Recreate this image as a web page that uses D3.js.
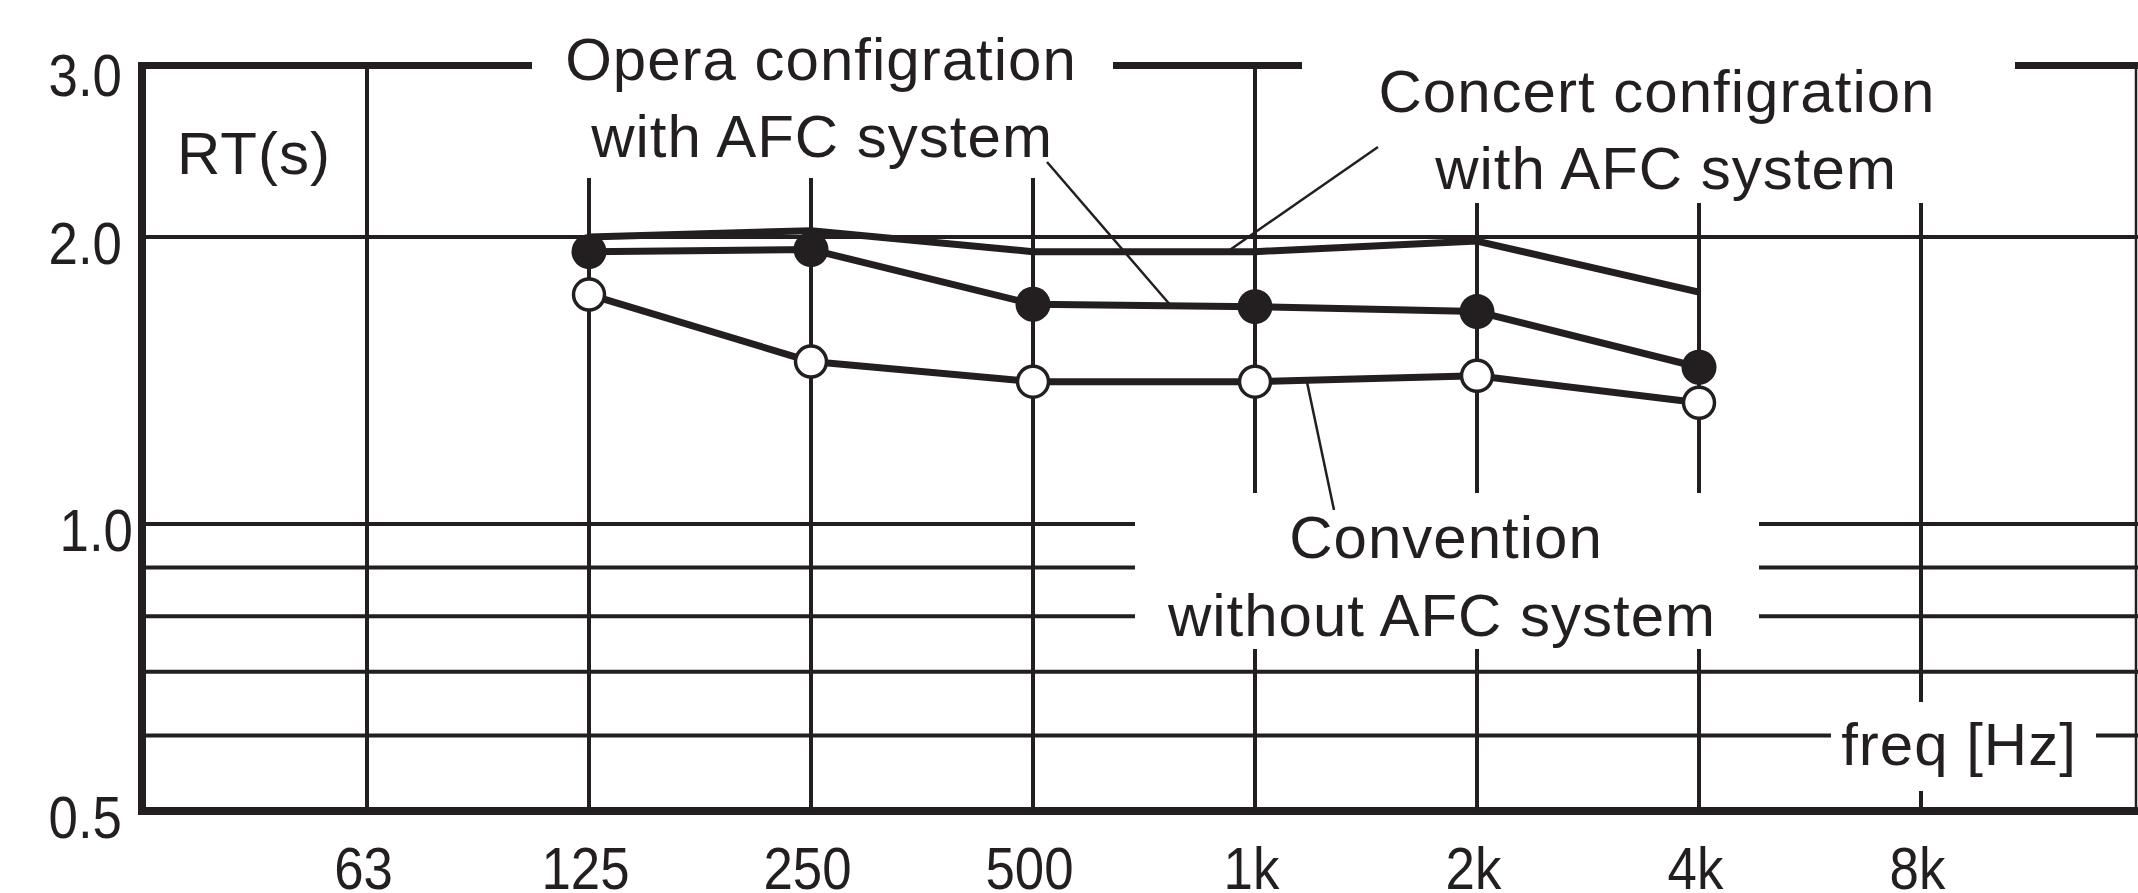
<!DOCTYPE html>
<html><head><meta charset="utf-8">
<script src="https://cdn.jsdelivr.net/npm/d3@7"></script>
<style>html,body{margin:0;padding:0;background:#fff;overflow:hidden}</style>
</head><body><svg id="chart" width="2138" height="893"></svg>
<script>
// ---- data ----
const freqValues = [62.5, 125, 250, 500, 1000, 2000, 4000, 8000];
const freqLabels = ["63", "125", "250", "500", "1k", "2k", "4k", "8k"];
const measFreqs = [125, 250, 500, 1000, 2000, 4000];
const concertRT = [2.00, 2.03, 1.93, 1.93, 1.98, 1.75];
const operaRT = [1.93, 1.94, 1.70, 1.69, 1.67, 1.46];
const conventionRT = [1.74, 1.48, 1.41, 1.41, 1.43, 1.34];
const yGridValues = [2.0, 1.0, 0.9, 0.8, 0.7, 0.6];
const yTickValues = [3.0, 2.0, 1.0, 0.5];
const yTickLabels = ["3.0", "2.0", "1.0", "0.5"];

// ---- setup ----
const W = 2138, H = 893, ink = "#231f20";
const FONT = "'Liberation Sans', Arial, sans-serif";
const x = d3.scaleLog().base(2).domain([31.25, 16000]).range([145, 2143]);
const y = d3.scaleLog().domain([0.5, 3]).range([811, 69]);
const svg = d3.select("#chart");
svg.append("rect").attr("width", W).attr("height", H).attr("fill", "#fff");

const x0 = x(31.25), yTop = y(3), yBot = y(0.5);

// ---- grid ----
const grid = svg.append("g").attr("stroke", ink).attr("stroke-width", 4);
grid.selectAll("line.h").data(yGridValues).join("line").attr("class", "h")
  .attr("x1", x0).attr("x2", W).attr("y1", d => y(d)).attr("y2", d => y(d));
grid.selectAll("line.v").data(freqValues).join("line").attr("class", "v")
  .attr("x1", d => x(d)).attr("x2", d => x(d)).attr("y1", yTop - 3).attr("y2", yBot);
// right edge
svg.append("line").attr("x1", W - 2).attr("x2", W - 2).attr("y1", yTop - 7).attr("y2", yBot + 4)
  .attr("stroke", ink).attr("stroke-width", 2.5);

// ---- frame ----
const frame = svg.append("g").attr("stroke", ink);
frame.append("line").attr("x1", x0 - 7).attr("x2", W).attr("y1", yTop - 3.5).attr("y2", yTop - 3.5).attr("stroke-width", 7);
frame.append("line").attr("x1", x0 - 3).attr("x2", x0 - 3).attr("y1", yTop - 7).attr("y2", yBot + 4).attr("stroke-width", 8);
frame.append("line").attr("x1", x0 - 7).attr("x2", W).attr("y1", yBot).attr("y2", yBot).attr("stroke-width", 8);

// ---- knockout boxes behind labels ----
const boxes = [
  [532, 0, 1113, 178],
  [1302, 0, 2015, 203],
  [1135, 493, 1759, 649],
  [1831, 702, 2096, 791]
];
svg.append("g").selectAll("rect").data(boxes).join("rect")
  .attr("x", d => d[0]).attr("y", d => d[1]).attr("width", d => d[2] - d[0]).attr("height", d => d[3] - d[1])
  .attr("fill", "#fff");

// ---- series ----
const line = d3.line().x(d => x(d[0])).y(d => y(d[1]));
const series = [concertRT, operaRT, conventionRT].map(vals => measFreqs.map((f, i) => [f, vals[i]]));
svg.append("g").selectAll("path").data(series).join("path")
  .attr("d", line).attr("fill", "none").attr("stroke", ink).attr("stroke-width", 7).attr("stroke-linejoin", "round");

svg.append("g").selectAll("circle").data(series[1]).join("circle")
  .attr("cx", d => x(d[0])).attr("cy", d => y(d[1])).attr("r", 17.5).attr("fill", ink);
svg.append("g").selectAll("circle").data(series[2]).join("circle")
  .attr("cx", d => x(d[0])).attr("cy", d => y(d[1])).attr("r", 15.5).attr("fill", "#fff")
  .attr("stroke", ink).attr("stroke-width", 3.5);

// ---- leader lines ----
const leaders = [
  [[1047, 162], [x(766), y(1.70)]],
  [[1378, 147], [x(917), y(1.93)]],
  [[x(1176), y(1.41)], [1334, 510]]
];
svg.append("g").selectAll("line").data(leaders).join("line")
  .attr("x1", d => d[0][0]).attr("y1", d => d[0][1]).attr("x2", d => d[1][0]).attr("y2", d => d[1][1])
  .attr("stroke", ink).attr("stroke-width", 2.5);

// narrow digit look of the original lettering
function condense(sel, k) {
  sel.each(function () {
    const w = this.getComputedTextLength();
    d3.select(this).attr("textLength", w * k).attr("lengthAdjust", "spacingAndGlyphs");
  });
}

// ---- axes ----
const xAxis = svg.append("g").call(d3.axisBottom(x).tickValues(freqValues).tickFormat((d, i) => freqLabels[i]).tickSize(0));
xAxis.select(".domain").remove();
xAxis.selectAll("text").attr("y", 889).attr("dy", null).attr("dx", -4)
  .attr("font-family", FONT).attr("font-size", 60).attr("fill", ink).call(condense, 0.88);

const yAxis = svg.append("g").call(d3.axisLeft(y).tickValues(yTickValues).tickFormat((d, i) => yTickLabels[i]).tickSize(0));
yAxis.select(".domain").remove();
yAxis.selectAll("text").attr("x", d => (d === 1 ? 133 : 122)).attr("dy", "0.36em")
  .attr("transform", "translate(0,5)")
  .attr("text-anchor", "end").attr("font-family", FONT).attr("font-size", 60).attr("fill", ink).call(condense, 0.88);

// ---- annotation texts ----
const texts = [
  ["RT(s)", 254, 174],
  ["Opera configration", 821, 80],
  ["with AFC system", 822, 157],
  ["Concert configration", 1657, 112],
  ["with AFC system", 1666, 189],
  ["Convention", 1446, 558],
  ["without AFC system", 1442, 636],
  ["freq [Hz]", 1959, 765]
];
svg.append("g").selectAll("text").data(texts).join("text")
  .attr("x", d => d[1]).attr("y", d => d[2]).attr("text-anchor", "middle")
  .attr("letter-spacing", 1)
  .attr("font-family", FONT).attr("font-size", 60).attr("fill", ink).text(d => d[0]);
</script>
</body></html>
